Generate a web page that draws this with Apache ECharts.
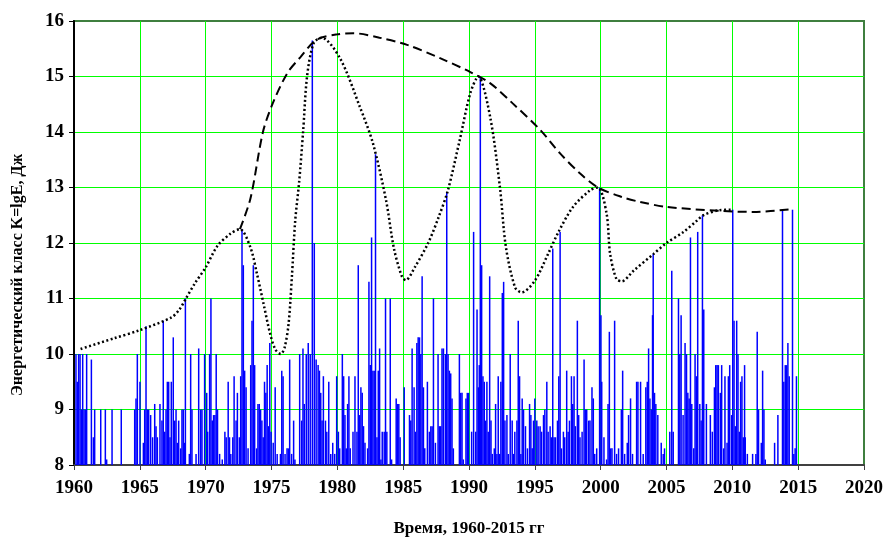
<!DOCTYPE html>
<html>
<head>
<meta charset="utf-8">
<script src="https://cdn.jsdelivr.net/npm/echarts@6/dist/echarts.min.js"></script>
<style>
html, body { margin: 0; padding: 0; background: #fff; }
#chart { width: 883px; height: 538px; }
</style>
</head>
<body>
<div id="chart"></div>
<script>
// события: [год, энергетический класс K]
const events1960s = [
  [1960.15,10.0],[1960.25,9.5],[1960.35,10.0],[1960.46,10.0],[1960.56,9.0],[1960.66,10.0],[1960.76,9.0],[1960.86,9.0],
  [1960.96,10.0],[1961.32,9.9],[1961.47,8.5],[1961.57,9.0],[1962.03,9.0],[1962.38,9.0],[1962.48,8.1],[1962.89,9.0],
  [1963.59,9.0],[1964.61,9.0],[1964.71,9.2],[1964.81,10.0],[1965.01,9.5],[1965.27,8.4],[1965.37,9.0],[1965.47,10.5],
  [1965.57,9.0],[1965.67,9.0],[1965.82,8.9],[1965.97,8.5],[1966.13,9.1],[1966.23,8.7],[1966.33,8.5],[1966.53,9.1],
  [1966.68,8.8],[1966.78,10.6],[1966.89,8.6],[1966.99,9.0],[1967.09,9.5],[1967.19,9.5],[1967.29,8.5],[1967.39,9.5],
  [1967.54,10.3],[1967.65,8.8],[1967.75,9.0],[1967.85,8.4],[1967.95,8.8],[1968.10,8.3],[1968.20,9.0],[1968.30,9.0],
  [1968.41,8.4],[1968.46,11.0],[1968.76,8.2],[1968.86,10.0],[1968.96,9.0],[1969.27,8.2],[1969.47,10.1],[1969.62,9.0],
  [1969.72,9.0],[1969.92,10.0]
];
const events1970s = [
  [1970.08,9.3],[1970.15,8.6],[1970.30,10.0],[1970.40,11.0],[1970.50,8.8],[1970.60,8.9],[1970.70,8.9],[1970.80,10.0],
  [1970.90,9.0],[1971.06,8.2],[1971.26,8.1],[1971.46,8.6],[1971.56,8.5],[1971.71,9.5],[1971.81,8.5],[1971.91,8.2],
  [1972.06,8.5],[1972.16,9.6],[1972.31,8.8],[1972.41,9.3],[1972.56,8.5],[1972.66,9.6],[1972.76,12.25],[1972.86,11.6],
  [1972.96,9.7],[1973.07,9.4],[1973.22,8.3],[1973.42,9.8],[1973.52,10.6],[1973.62,11.6],[1973.72,9.8],[1973.87,8.3],
  [1973.97,9.1],[1974.07,9.1],[1974.17,9.0],[1974.27,8.8],[1974.37,8.5],[1974.47,9.5],[1974.57,9.3],[1974.67,9.8],
  [1974.77,8.7],[1974.87,10.2],[1974.97,8.6],[1975.13,8.4],[1975.28,9.4],[1975.43,8.2],[1975.68,8.2],[1975.78,9.7],
  [1975.88,9.6],[1976.03,8.2],[1976.18,8.3],[1976.28,8.3],[1976.38,9.9],[1976.53,8.2],[1976.68,8.8],[1976.78,8.1],
  [1977.14,10.0],[1977.29,8.8],[1977.39,10.1],[1977.49,9.1],[1977.64,10.0],[1977.79,10.2],[1977.94,10.0],[1978.10,15.65],
  [1978.25,12.0],[1978.39,9.9],[1978.54,9.8],[1978.64,9.7],[1978.74,9.3],[1978.84,8.8],[1978.94,9.6],[1979.10,8.8],
  [1979.20,8.6],[1979.35,9.5],[1979.50,8.2],[1979.65,8.4],[1979.80,8.2],[1979.95,9.6]
];
const events1980s = [
  [1980.08,8.6],[1980.18,8.3],[1980.38,10.0],[1980.48,9.6],[1980.58,8.9],[1980.68,8.3],[1980.78,9.1],[1980.88,9.6],
  [1980.98,8.3],[1981.19,8.6],[1981.34,9.6],[1981.49,8.6],[1981.59,11.6],[1981.69,8.9],[1981.79,9.4],[1981.89,9.3],
  [1981.99,8.7],[1982.10,8.4],[1982.30,8.3],[1982.40,11.3],[1982.50,9.8],[1982.60,12.1],[1982.70,9.7],[1982.80,9.7],
  [1982.90,13.6],[1983.01,8.5],[1983.11,9.7],[1983.21,10.1],[1983.31,8.1],[1983.41,8.6],[1983.56,8.6],[1983.66,11.0],
  [1983.76,8.6],[1984.02,11.0],[1984.12,8.1],[1984.47,9.2],[1984.57,9.1],[1984.67,9.1],[1984.77,8.5],[1985.08,9.4],
  [1985.48,8.9],[1985.58,8.8],[1985.68,10.1],[1985.83,9.4],[1985.93,8.6],[1986.04,10.2],[1986.14,10.3],[1986.24,10.3],
  [1986.34,10.0],[1986.44,11.4],[1986.54,9.4],[1986.64,8.3],[1986.84,9.5],[1986.99,8.6],[1987.10,8.7],[1987.20,8.7],
  [1987.30,11.0],[1987.45,8.4],[1987.65,10.0],[1987.75,8.7],[1987.85,8.7],[1987.95,10.1],[1988.06,10.1],[1988.21,10.0],
  [1988.31,12.9],[1988.41,10.0],[1988.51,9.7],[1988.61,9.65],[1988.71,9.2],[1988.81,8.3],[1989.27,10.0],[1989.37,9.3],
  [1989.47,9.3],[1989.57,8.1],[1989.77,9.2],[1989.87,9.3],[1989.97,9.3]
];
const events1990s = [
  [1990.20,8.6],[1990.35,12.2],[1990.51,8.6],[1990.61,10.8],[1990.71,9.4],[1990.78,9.8],[1990.86,15.0],[1990.96,11.6],
  [1991.06,9.6],[1991.16,9.5],[1991.26,8.8],[1991.36,9.5],[1991.46,8.6],[1991.57,11.4],[1991.67,8.8],[1991.77,8.2],
  [1991.92,8.3],[1992.02,9.1],[1992.12,8.2],[1992.22,9.6],[1992.32,8.2],[1992.42,9.5],[1992.53,11.1],[1992.63,11.3],
  [1992.73,8.8],[1992.88,8.9],[1992.98,8.2],[1993.13,10.0],[1993.28,8.8],[1993.38,8.2],[1993.48,8.6],[1993.64,8.8],
  [1993.74,10.6],[1993.84,9.6],[1993.94,8.2],[1994.04,9.2],[1994.14,9.0],[1994.29,8.7],[1994.44,8.3],[1994.60,9.1],
  [1994.70,8.9],[1994.80,8.3],[1994.90,8.8],[1995.00,9.2],[1995.15,8.8],[1995.25,8.7],[1995.40,8.7],[1995.51,8.6],
  [1995.66,8.9],[1995.76,9.0],[1995.91,9.5],[1996.01,8.6],[1996.16,8.7],[1996.26,8.5],[1996.36,11.9],[1996.46,8.5],
  [1996.57,8.5],[1996.72,8.8],[1996.82,9.6],[1996.92,12.2],[1997.02,8.3],[1997.17,8.6],[1997.27,8.5],[1997.42,9.7],
  [1997.53,8.6],[1997.63,8.8],[1997.78,9.6],[1997.88,9.1],[1997.98,9.6],[1998.08,8.7],[1998.23,10.6],[1998.33,8.9],
  [1998.43,8.5],[1998.59,8.6],[1998.74,9.9],[1998.84,9.0],[1998.94,9.0],[1999.09,8.8],[1999.19,8.8],[1999.34,9.4],
  [1999.44,9.2],[1999.55,8.2],[1999.70,8.3],[1999.92,13.0]
];
const events2000s = [
  [2000.02,10.7],[2000.08,9.5],[2000.25,8.5],[2000.45,8.1],[2000.56,9.1],[2000.66,10.4],[2000.76,8.3],[2000.86,8.3],
  [2001.06,10.6],[2001.21,8.2],[2001.36,8.3],[2001.57,9.0],[2001.67,9.7],[2001.82,8.2],[2002.02,8.4],[2002.12,8.9],
  [2002.27,9.2],[2002.42,8.2],[2002.73,9.5],[2002.83,9.5],[2003.03,9.5],[2003.23,8.2],[2003.43,9.4],[2003.54,9.5],
  [2003.64,10.1],[2003.74,9.2],[2003.84,9.0],[2003.94,10.7],[2003.99,11.8],[2004.09,9.3],[2004.19,9.1],[2004.34,8.9],
  [2004.60,8.4],[2004.75,8.2],[2004.85,8.3],[2005.25,8.6],[2005.40,11.5],[2005.51,8.6],[2005.91,11.0],[2006.01,10.0],
  [2006.11,10.7],[2006.26,8.9],[2006.41,10.2],[2006.52,10.0],[2006.62,9.3],[2006.72,9.2],[2006.82,12.1],[2006.92,9.1],
  [2007.07,8.3],[2007.17,10.0],[2007.27,9.6],[2007.37,12.2],[2007.53,9.1],[2007.63,8.8],[2007.73,12.5],[2007.83,10.8],
  [2008.03,9.1],[2008.33,8.9],[2008.48,8.6],[2008.64,9.4],[2008.74,9.8],[2008.84,9.8],[2008.94,9.8],[2009.09,9.3],
  [2009.19,9.8],[2009.34,8.3],[2009.44,9.6],[2009.60,8.4],[2009.70,9.6],[2009.80,9.8],[2009.95,8.9]
];
const events2010s = [
  [2010.03,12.6],[2010.13,10.6],[2010.23,8.7],[2010.33,10.6],[2010.43,10.0],[2010.53,8.6],[2010.63,9.5],[2010.73,9.6],
  [2010.83,8.5],[2010.93,9.8],[2010.98,8.5],[2011.14,8.2],[2011.54,8.2],[2011.79,8.2],[2011.89,10.4],[2011.99,9.0],
  [2012.20,8.4],[2012.30,9.7],[2012.40,9.0],[2012.50,8.1],[2013.21,8.4],[2013.46,8.9],[2013.81,12.6],[2013.91,9.5],
  [2014.02,9.8],[2014.12,9.8],[2014.22,10.2],[2014.32,9.6],[2014.57,12.6],[2014.67,8.2],[2014.77,8.3],[2014.87,9.6]
];

// огибающая по максимумам (пунктир точками)
const envelopeLow = [
  [1960.5,10.09],[1963,10.28],[1965,10.43],[1967.4,10.66],[1968,10.8],[1968.5,11.0],[1969.2,11.28],[1970,11.56],
  [1970.9,11.95],[1971.9,12.17],[1972.6,12.25],[1973.4,11.92],[1973.9,11.44],[1974.4,10.9],[1974.9,10.36],[1975.3,10.08],
  [1975.7,10.0],[1976.0,10.12],[1976.3,10.55],[1976.55,11.4],[1976.8,12.4],[1977.1,13.1],[1977.4,14.0],[1977.7,15.0],
  [1978.2,15.6],[1978.8,15.7],[1980.2,15.33],[1981.7,14.46],[1982.7,13.8],[1983.7,12.77],[1984.3,11.9],[1984.9,11.4],
  [1985.2,11.33],[1985.9,11.57],[1986.9,12.0],[1987.7,12.47],[1988.4,12.95],[1989.3,13.86],[1990.1,14.7],[1990.7,15.0],
  [1991.6,14.28],[1992.35,13.0],[1992.8,11.93],[1993.5,11.2],[1994.0,11.11],[1995.0,11.32],[1996.0,11.8],[1996.8,12.2],
  [1997.9,12.65],[1999.2,12.95],[1999.8,13.0],[2000.45,12.53],[2000.72,11.8],[2001.2,11.35],[2001.6,11.31],[2002.5,11.5],
  [2004.0,11.8],[2005.0,12.0],[2006.3,12.2],[2007.3,12.4],[2007.8,12.5],[2009.0,12.59],[2010.0,12.6]
];
// верхняя огибающая (штрих)
const envelopeHigh = [
  [1972.6,12.25],[1973.4,12.8],[1974.35,14.0],[1975.1,14.52],[1976.2,15.06],[1977.2,15.35],[1978.4,15.66],[1980,15.76],
  [1981.2,15.78],[1983.2,15.7],[1985.3,15.57],[1987.8,15.33],[1990.1,15.08],[1991.6,14.88],[1993.3,14.52],[1995.4,14.04],
  [1996.9,13.62],[1998.4,13.26],[1999.8,13.0],[2001.6,12.83],[2003,12.74],[2005,12.65],[2009,12.58],[2011.6,12.56],
  [2014.6,12.61]
];

const events = [].concat(events1960s, events1970s, events1980s, events1990s, events2000s, events2010s);

const serif = '"Liberation Serif", "Times New Roman", serif';
const chart = echarts.init(document.getElementById('chart'));

chart.setOption({
  animation: false,
  grid: {
    left: 74, right: 19, top: 21, bottom: 73,
    outerBoundsMode: 'none',
    show: true, borderColor: '#3f7f3f', borderWidth: 2
  },
  // подпись оси Y: привязана к нижнему краю, текст идёт вверх
  graphic: [{
    type: 'text', x: 18, y: 396, rotation: Math.PI / 2,
    style: {
      text: 'Энергетический класс K=lgE, Дж',
      font: 'bold 16px ' + serif, fill: '#000',
      textAlign: 'left', textVerticalAlign: 'middle'
    }
  }],
  xAxis: {
    type: 'value', min: 1960, max: 2020, interval: 5,
    name: 'Время, 1960-2015 гг', nameLocation: 'middle', nameGap: 55,
    nameTextStyle: { fontFamily: serif, fontWeight: 'bold', fontSize: 17, color: '#000' },
    axisLine: { lineStyle: { color: '#404040', width: 2 } },
    axisTick: { show: true, length: 5, lineStyle: { color: '#404040' } },
    axisLabel: { fontFamily: serif, fontWeight: 'bold', fontSize: 19, color: '#000', margin: 14,
      formatter: v => String(v) },
    splitLine: { show: true, showMinLine: false, showMaxLine: false, lineStyle: { color: '#00ff00', width: 1 } }
  },
  yAxis: {
    type: 'value', min: 8, max: 16, interval: 1,
    axisLine: { show: true, lineStyle: { color: '#000', width: 2 } },
    axisTick: { show: true, length: 5, lineStyle: { color: '#000' } },
    axisLabel: { fontFamily: serif, fontWeight: 'bold', fontSize: 19, color: '#000', margin: 10 },
    splitLine: { show: true, showMinLine: false, showMaxLine: false, lineStyle: { color: '#00ff00', width: 1 } }
  },
  series: [
    {
      type: 'custom',
      data: events,
      encode: { x: 0, y: 1 },
      clip: true,
      renderItem: function (params, api) {
        const x = api.value(0);
        const p0 = api.coord([x, 8]);
        const p1 = api.coord([x, api.value(1)]);
        return {
          type: 'line',
          shape: { x1: p0[0], y1: p0[1], x2: p1[0], y2: p1[1] },
          style: { stroke: '#0000ff', lineWidth: 1.5 }
        };
      }
    },
    {
      type: 'line', data: envelopeLow, smooth: 0.3, symbol: 'none', z: 5,
      lineStyle: { color: '#000', width: 2.5, type: [2, 2.5] }
    },
    {
      type: 'line', data: envelopeHigh, smooth: 0.3, symbol: 'none', z: 5,
      lineStyle: { color: '#000', width: 2, type: [9, 5] }
    }
  ]
});
</script>
</body>
</html>
